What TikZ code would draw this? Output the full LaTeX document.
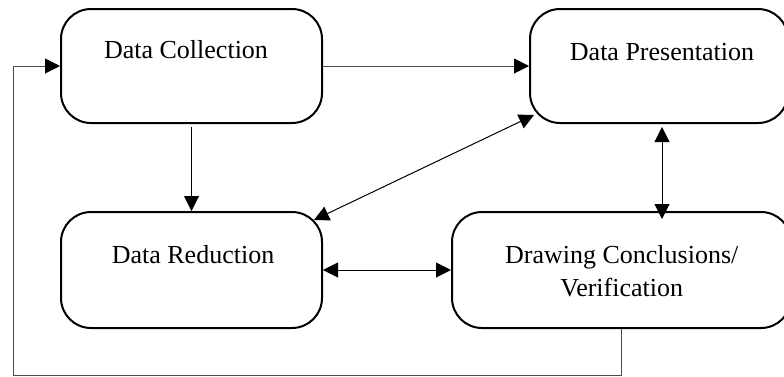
\documentclass[tikz,border=0pt]{standalone}
\usepackage{fontspec}
\setmainfont{Liberation Serif}
\usetikzlibrary{arrows.meta,calc}
\begin{document}
\begin{tikzpicture}[x=1pt,y=-1pt,
  box/.style={draw=black,line width=2pt,rounded corners=30pt,inner sep=0pt},
  lbl/.style={font=\fontsize{26}{33}\selectfont,inner sep=0pt,align=center},
  conn/.style={line width=1pt,black},
  gconn/.style={line width=1pt,draw=black!70},
  tip/.style={-{Triangle[length=15pt,width=15pt,color=black]}},
  both/.style={{Triangle[length=15pt,width=15pt,color=black]}-{Triangle[length=15pt,width=15pt,color=black]}}]
\useasboundingbox (0,0) rectangle (784,376);
\begin{scope}
\clip (0,0) rectangle (784,376);
\node[box,minimum width=261pt,minimum height=114pt] (dc) at (191.5,66) {};
\node[box,minimum width=261pt,minimum height=116pt] (dr) at (191.5,270) {};
\node[box,minimum width=258pt,minimum height=114pt] (dp) at (659,66) {};
\node[box,minimum width=339pt,minimum height=116pt] (dv) at (621.5,270) {};
\end{scope}
\node[lbl] (tdc) at (186,50) {Data Collection};
\node[lbl] (tdr) at (193,255) {Data Reduction};
\node[lbl] (tdp) at (662,52) {Data Presentation};
\node[lbl] (tdv) at (621.7,271) {Drawing Conclusions/\\Verification};
% connectors
\draw[gconn,tip] (dc.east) -- (dp.west);
\draw[conn,tip,shorten <=3pt] (dc.south) -- (dr.north);
\draw[conn,both] ($(dr.north east)+(-9,9)$) -- ($(dp.south west)+(5,-9)$);
\draw[conn,both] (dr.east) -- (dv.west);
\coordinate (vx) at (662,0);
\draw[conn,both,shorten <=3pt,shorten >=-8pt] (dp.south -| vx) -- (dv.north -| vx);
\coordinate (fb) at (13,375);
\draw[gconn] (dv.south) -- (dv.south |- fb) -- (fb) -- (fb |- dc.west);
\draw[gconn,tip] (fb |- dc.west) -- (dc.west);
\end{tikzpicture}
\end{document}
